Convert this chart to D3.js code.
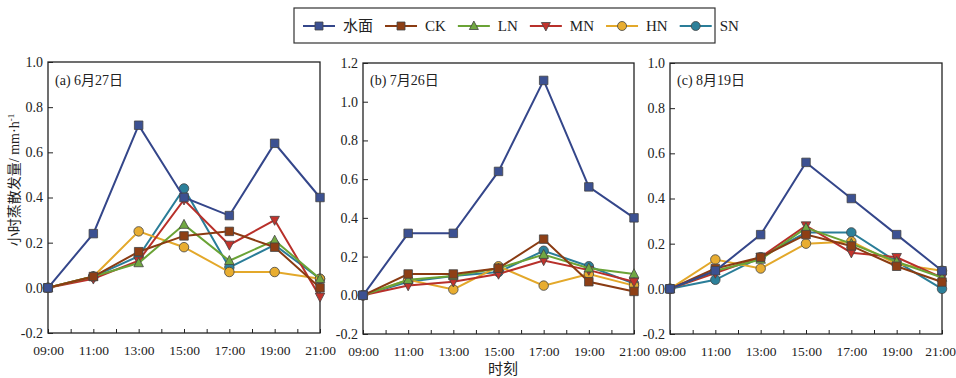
<!DOCTYPE html>
<html><head><meta charset="utf-8">
<script src="https://cdn.jsdelivr.net/npm/d3@7"></script>
<style>
body{margin:0;background:#fff;}
text{font-family:"Liberation Serif","Noto Sans CJK SC",serif;fill:#222;}
</style></head>
<body><svg id="c" width="956" height="378"></svg>
<script>
const hours = [9, 11, 13, 15, 17, 19, 21];
const hourLabels = ["09:00","11:00","13:00","15:00","17:00","19:00","21:00"];
const seriesNames = ["水面","CK","LN","MN","HN","SN"];
const seriesColors = ["#34468a","#8a3b12","#6aa336","#b8302a","#e3a82a","#2a7d98"];
const markerFills = ["#3c5192","#8e3f15","#71a842","#c2332c","#e8ad30","#2c809a"];
const markerTypes = ["square","square","triangleUp","triangleDown","circle","circle"];

const panelTitles = ["(a) 6月27日","(b) 7月26日","(c) 8月19日"];
const yMaxes = [1.0, 1.2, 1.0];

// panel (a) 6月27日
const a_water = [0, 0.24, 0.72, 0.40, 0.32, 0.64, 0.40];
const a_CK    = [0, 0.05, 0.16, 0.23, 0.25, 0.18, 0.00];
const a_LN    = [0, 0.05, 0.11, 0.28, 0.12, 0.21, 0.04];
const a_MN    = [0, 0.04, 0.12, 0.39, 0.19, 0.30, -0.04];
const a_HN    = [0, 0.05, 0.25, 0.18, 0.07, 0.07, 0.04];
const a_SN    = [0, 0.05, 0.14, 0.44, 0.09, 0.19, 0.04];
// panel (b) 7月26日
const b_water = [0, 0.32, 0.32, 0.64, 1.11, 0.56, 0.40];
const b_CK    = [0, 0.11, 0.11, 0.14, 0.29, 0.07, 0.02];
const b_LN    = [0, 0.08, 0.10, 0.14, 0.21, 0.14, 0.11];
const b_MN    = [0, 0.05, 0.07, 0.11, 0.18, 0.13, 0.07];
const b_HN    = [0, 0.08, 0.03, 0.15, 0.05, 0.11, 0.05];
const b_SN    = [0, 0.07, 0.10, 0.12, 0.23, 0.15, 0.06];
// panel (c) 8月19日
const c_water = [0, 0.08, 0.24, 0.56, 0.40, 0.24, 0.08];
const c_CK    = [0, 0.09, 0.14, 0.24, 0.19, 0.10, 0.03];
const c_LN    = [0, 0.08, 0.13, 0.27, 0.20, 0.12, 0.05];
const c_MN    = [0, 0.07, 0.14, 0.28, 0.16, 0.14, 0.05];
const c_HN    = [0, 0.13, 0.09, 0.20, 0.21, 0.11, 0.08];
const c_SN    = [0, 0.04, 0.14, 0.25, 0.25, 0.12, 0.00];

const panelData = [
  [a_water, a_CK, a_LN, a_MN, a_HN, a_SN],
  [b_water, b_CK, b_LN, b_MN, b_HN, b_SN],
  [c_water, c_CK, c_LN, c_MN, c_HN, c_SN]
];

const FONT = '"Liberation Serif","Noto Sans CJK SC",serif';

const svg = d3.select("#c");
const panels = [
  {x0: 48, x1: 320, y0: 62, y1: 333},
  {x0: 363, x1: 634, y0: 63, y1: 334},
  {x0: 670, x1: 942, y0: 63, y1: 334}
];

function markerPath(type, s) {
  const h = s / 2;
  if (type === "square") return `M${-h},${-h}h${s}v${s}h${-s}Z`;
  if (type === "triangleUp") return `M0,${-h-1}L${h+0.5},${h-0.5}L${-h-0.5},${h-0.5}Z`;
  if (type === "triangleDown") return `M0,${h+1}L${h+0.5},${-h+0.5}L${-h-0.5},${-h+0.5}Z`;
  const r = h + 0.5;
  return `M${r},0A${r},${r} 0 1,1 ${-r},0A${r},${r} 0 1,1 ${r},0Z`;
}

const fmt = v => d3.format(".1f")(v).replace("−", "-");

panels.forEach((p, pi) => {
  const x = d3.scaleLinear().domain([9, 21]).range([p.x0, p.x1]);
  const y = d3.scaleLinear().domain([-0.2, yMaxes[pi]]).range([p.y1, p.y0]);
  const g = svg.append("g");

  g.append("rect").attr("x", p.x0).attr("y", p.y0)
    .attr("width", p.x1 - p.x0).attr("height", p.y1 - p.y0)
    .attr("fill", "none").attr("stroke", "#222").attr("stroke-width", 1.3);

  const xAxis = d3.axisBottom(x).tickValues(d3.range(9, 22, 1)).tickSizeInner(-4).tickSizeOuter(0)
    .tickFormat(d => { const i = hours.indexOf(d); return i >= 0 ? hourLabels[i] : ""; });
  const xg = g.append("g").attr("transform", `translate(0,${p.y1})`).call(xAxis);
  xg.attr("font-family", FONT);
  xg.select(".domain").remove();
  xg.selectAll("line").attr("stroke", "#222");
  xg.selectAll("text").attr("y", 12).attr("font-size", 13.5)
    .attr("font-family", FONT).style("font-family", FONT).attr("fill", "#222");
  if (pi === panels.length - 1) {
    xg.selectAll("text").filter(d => d === 21).attr("text-anchor", "end").attr("dx", 13.5);
  }

  const yTicks = d3.range(-0.2, yMaxes[pi] + 0.001, 0.2).map(v => Math.round(v * 10) / 10);
  const yAxis = d3.axisLeft(y).tickValues(yTicks).tickSizeInner(-5).tickSizeOuter(0).tickFormat(fmt);
  const yg = g.append("g").attr("transform", `translate(${p.x0},0)`).call(yAxis);
  yg.attr("font-family", FONT);
  yg.select(".domain").remove();
  yg.selectAll("line").attr("stroke", "#222");
  yg.selectAll("text").attr("x", -5).attr("font-size", 14)
    .attr("font-family", FONT).style("font-family", FONT).attr("fill", "#222");

  g.append("text").attr("x", p.x0 + 7).attr("y", 85).attr("font-size", 14)
    .style("font-family", FONT).text(panelTitles[pi]);

  const line = d3.line().x((d, i) => x(hours[i])).y(d => y(d));
  for (let si = seriesNames.length - 1; si >= 0; si--) {
    const vals = panelData[pi][si];
    const sg = g.append("g");
    sg.append("path").datum(vals).attr("d", line)
      .attr("fill", "none").attr("stroke", seriesColors[si]).attr("stroke-width", 2);
    sg.selectAll("path.m").data(vals).join("path").attr("class", "m")
      .attr("transform", (d, i) => `translate(${x(hours[i])},${y(d)})`)
      .attr("d", markerPath(markerTypes[si], 8.5))
      .attr("fill", markerFills[si]).attr("stroke", "#444").attr("stroke-width", 0.8);
  }
});

svg.append("text")
  .attr("transform", "translate(19,180) rotate(-90)")
  .attr("text-anchor", "middle").attr("font-size", 14)
  .style("font-family", FONT)
  .html('<tspan>小时蒸散发量</tspan><tspan>/ mm·h</tspan><tspan dy="-5" font-size="9">-1</tspan>');

svg.append("text").attr("x", 503).attr("y", 374).attr("text-anchor", "middle")
  .attr("font-size", 15).style("font-family", FONT).text("时刻");

const lg = svg.append("g");
lg.append("rect").attr("x", 294).attr("y", 8).attr("width", 421).attr("height", 35)
  .attr("fill", "#fff").attr("stroke", "#333").attr("stroke-width", 1.2);
let lx = 303;
seriesNames.forEach((n, i) => {
  const it = lg.append("g").attr("transform", `translate(${lx},26)`);
  it.append("line").attr("x1", 0).attr("x2", 32).attr("stroke", seriesColors[i]).attr("stroke-width", 2);
  it.append("path").attr("transform", "translate(16,0)").attr("d", markerPath(markerTypes[i], 8))
    .attr("fill", markerFills[i]).attr("stroke", "#444").attr("stroke-width", 0.8);
  const t = it.append("text").attr("x", 40).attr("y", 5).attr("font-size", 15)
    .style("font-family", FONT).text(n);
  lx += 40 + t.node().getComputedTextLength() + 12;
});
</script></body></html>
